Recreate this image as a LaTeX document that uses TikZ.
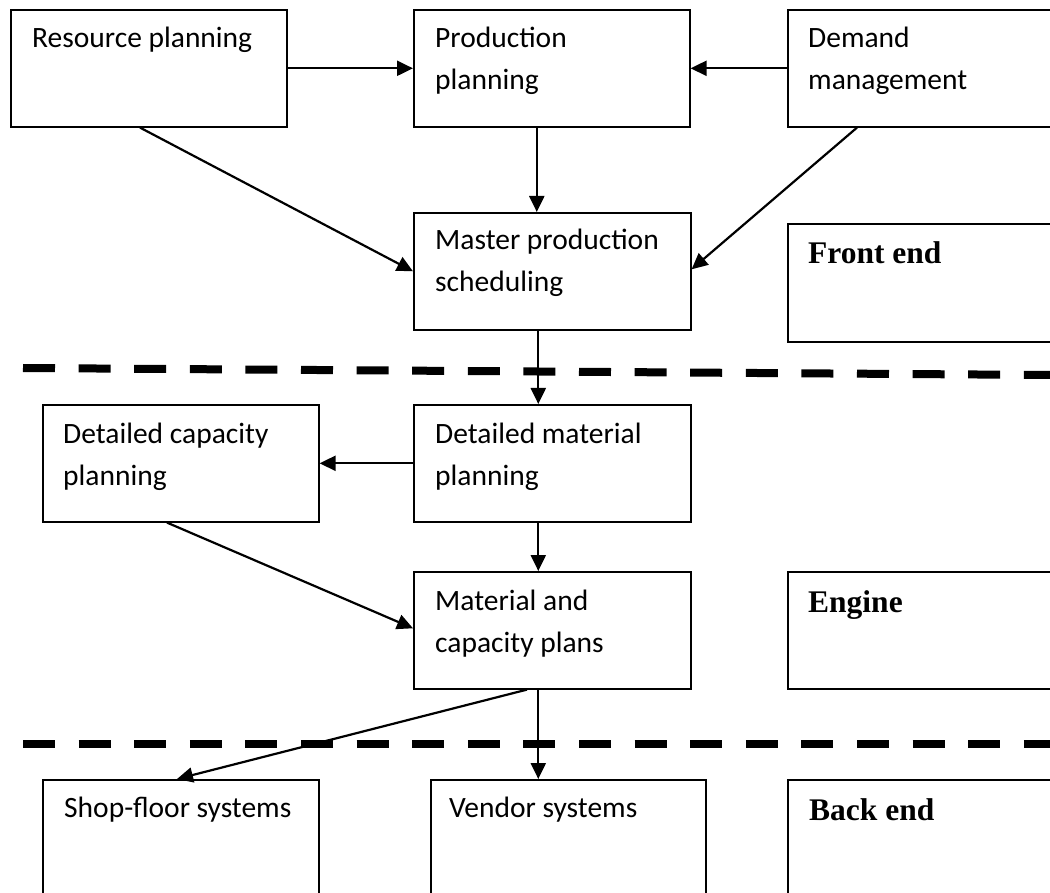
\documentclass[tikz,border=0pt]{standalone}
\usepackage{fontspec}
\setmainfont{Carlito}
\newfontfamily\tnr{Liberation Serif}
\usetikzlibrary{arrows.meta,calc}
\tikzset{
  box/.style={draw, line width=1.6pt, rectangle, inner sep=0pt, anchor=north west},
  txt/.style={anchor=base west, inner sep=0pt, align=left, font=\fontsize{29.5}{42}\selectfont},
  ttl/.style={anchor=base west, inner sep=0pt, font=\tnr\bfseries\fontsize{31.5}{38}\selectfont},
  arr/.style={line width=2.2pt, -{Triangle[length=16pt,width=15pt]}},
  sep/.style={line width=8pt, dash pattern=on 32pt off 23.6pt}
}
\begin{document}
\begin{tikzpicture}[x=1pt,y=-1pt]
\useasboundingbox (0,0) rectangle (1050,893);
\clip (0,0) rectangle (1050,893);
\fill[white] (0,0) rectangle (1050,893);
% boxes
\node[box, minimum width=276pt, minimum height=117pt] (R)  at (10,9) {};
\node[box, minimum width=276pt, minimum height=117pt] (P)  at (413,9) {};
\node[box, minimum width=276pt, minimum height=117pt] (D)  at (787,9) {};
\node[box, minimum width=277pt, minimum height=117pt] (M)  at (413,212) {};
\node[box, minimum width=276pt, minimum height=118pt] (FE) at (787,223) {};
\node[box, minimum width=276pt, minimum height=117pt] (DC) at (42,404) {};
\node[box, minimum width=277pt, minimum height=117pt] (DM) at (413,404) {};
\node[box, minimum width=277pt, minimum height=117pt] (MC) at (413,571) {};
\node[box, minimum width=276pt, minimum height=117pt] (EN) at (787,571) {};
\node[box, minimum width=276pt, minimum height=130pt] (SF) at (42,779) {};
\node[box, minimum width=275pt, minimum height=130pt] (VS) at (430,779) {};
\node[box, minimum width=276pt, minimum height=130pt] (BE) at (787,779) {};
% texts (base anchor = baseline of the last line)
\node[txt] (Rt)  at ($(R.north west)+(22,39)$) {Resource planning};
\node[txt] (Pt)  at ($(P.north west)+(22,81)$) {Production\\planning};
\node[txt] (Dt)  at ($(D.north west)+(21,81)$) {Demand\\management};
\node[txt] (Mt)  at ($(M.north west)+(22,80)$) {Master production\\scheduling};
\node[ttl] (FEt) at ($(FE.north west)+(21,41)$) {Front end};
\node[txt] (DCt) at ($(DC.north west)+(21,81)$) {Detailed capacity\\planning};
\node[txt] (DMt) at ($(DM.north west)+(22,81)$) {Detailed material\\planning};
\node[txt] (MCt) at ($(MC.north west)+(22,81)$) {Material and\\capacity plans};
\node[ttl] (ENt) at ($(EN.north west)+(21,41)$) {Engine};
\node[txt] (SFt) at ($(SF.north west)+(22,38)$) {Shop-floor systems};
\node[txt] (VSt) at ($(VS.north west)+(19,38)$) {Vendor systems};
\node[ttl] (BEt) at ($(BE.north west)+(22,41)$) {Back end};
% separators
\coordinate (s1a) at (23,368);
\coordinate (s1b) at (1080,375.2);
\coordinate (s2a) at (23,744);
\coordinate (s2b) at (1080,744);
\draw[sep] (s1a) -- (s1b);
\draw[sep] (s2a) -- (s2b);
% connectors
\draw[arr] (R.east) -- (P.west);
\draw[arr] (D.west) -- (P.east);
\draw[arr] ([xshift=-15pt]P.south) -- ([xshift=-15pt]P.south |- M.north);
\draw[arr] ($(R.south west)+(130,0)$) -- (M.west);
\draw[arr] ($(D.south west)+(70,0)$) -- ([yshift=2pt]M.east);
\draw[arr] ([xshift=-14pt]M.south) -- ([xshift=-14pt]M.south |- DM.north);
\draw[arr] (DM.west) -- (DM.west -| DC.east);
\draw[arr] ([xshift=-14pt]DM.south) -- ([xshift=-14pt]DM.south |- MC.north);
\draw[arr] ($(DC.south west)+(125,0)$) -- ([yshift=2pt]MC.west);
\draw[arr] ($(MC.south west)+(114,0)$) -- ($(SF.north west)+(135,0)$);
\draw[arr] ([xshift=-14pt]MC.south) -- ([xshift=-14pt]MC.south |- VS.north);
\end{tikzpicture}
\end{document}
